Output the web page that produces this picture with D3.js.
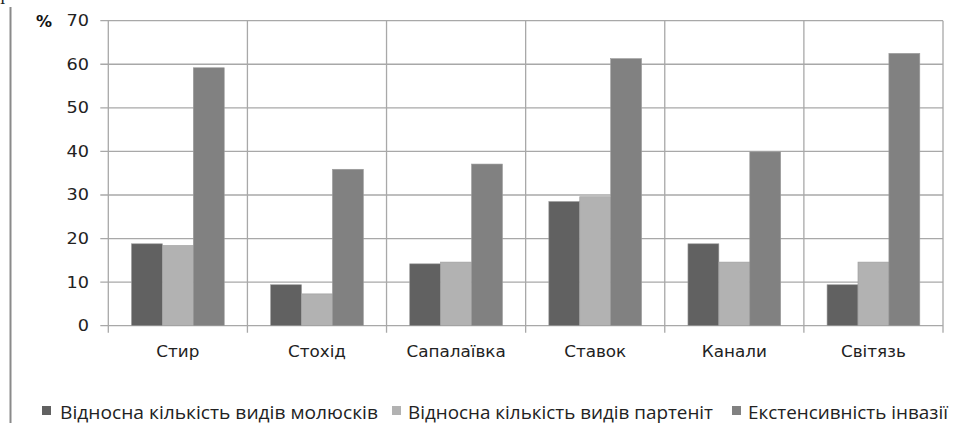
<!DOCTYPE html>
<html>
<head>
<meta charset="utf-8">
<script src="https://cdn.jsdelivr.net/npm/d3@7"></script>
<style>
  html, body { margin: 0; padding: 0; background: #fff; }
  svg { display: block; }
</style>
</head>
<body>
<svg id="chart" width="957" height="423"></svg>
<script>
const categories = ["Стир", "Стохід", "Сапалаївка", "Ставок", "Канали", "Світязь"];
const seriesNames = [
  "Відносна кількість видів молюсків",
  "Відносна кількість видів партеніт",
  "Екстенсивність інвазії"
];
const molluscs = [18.8, 9.4, 14.2, 28.5, 18.8, 9.4];
const parthenites = [18.4, 7.3, 14.6, 29.6, 14.6, 14.6];
const invasion = [59.2, 35.9, 37.1, 61.3, 39.9, 62.5];
const yTicks = [0, 10, 20, 30, 40, 50, 60, 70];

const seriesValues = [molluscs, parthenites, invasion];
const colors = ["#616161", "#b2b2b2", "#818181"];

const svg = d3.select("#chart");
const W = 957, H = 423;
const plot = { left: 108.3, right: 943, top: 20.7, bottom: 325.7 };

const x = d3.scaleBand().domain(categories).range([plot.left, plot.right]).padding(0);
const xs = d3.scaleBand().domain(d3.range(seriesValues.length)).range([0, x.bandwidth()])
  .paddingInner(0).paddingOuter(0.75);
const y = d3.scaleLinear().domain([0, 70]).range([plot.bottom, plot.top]);

const gridColor = "#a8a8a8";
const textColor = "#222";

// left page rule
svg.append("line").attr("x1", 10.5).attr("x2", 10.5).attr("y1", 7).attr("y2", H)
  .attr("stroke", "#8a8a8a").attr("stroke-width", 2);
svg.append("text").attr("x", 0).attr("y", 4).attr("font-family", "Liberation Serif")
  .attr("font-size", 16).attr("fill", "#222").text("I");

// horizontal gridlines (with left tick)
svg.append("g").selectAll("line").data(yTicks).join("line")
  .attr("x1", plot.left - 8).attr("x2", plot.right)
  .attr("y1", d => y(d)).attr("y2", d => y(d))
  .attr("stroke", gridColor).attr("stroke-width", 1.3);

// vertical gridlines (category boundaries)
const bounds = categories.map(c => x(c)).concat([plot.right]);
svg.append("g").selectAll("line").data(bounds).join("line")
  .attr("x1", d => d).attr("x2", d => d)
  .attr("y1", plot.top).attr("y2", plot.bottom + 7)
  .attr("stroke", gridColor).attr("stroke-width", 1.3);

// bars
const groups = svg.append("g").selectAll("g").data(categories).join("g")
  .attr("transform", c => `translate(${x(c)},0)`);
groups.selectAll("rect")
  .data((c, i) => seriesValues.map((s, k) => ({ k, v: s[i] })))
  .join("rect")
  .attr("x", d => xs(d.k))
  .attr("width", xs.bandwidth())
  .attr("y", d => y(d.v))
  .attr("height", d => y(0) - y(d.v))
  .attr("fill", d => colors[d.k])
  .attr("stroke", "#9c9c9c").attr("stroke-width", 0.6);

// y tick labels
svg.append("g").selectAll("text").data(yTicks).join("text")
  .attr("transform", d => `translate(89,${y(d)}) scale(1.18,1)`)
  .attr("text-anchor", "end").attr("dy", "0.36em")
  .attr("font-family", "DejaVu Sans").attr("font-size", 15).attr("fill", textColor)
  .text(d => d);

svg.append("text").attr("x", 36).attr("y", 27)
  .attr("font-family", "DejaVu Sans").attr("font-weight", "bold")
  .attr("font-size", 16).attr("fill", "#111").text("%");

// category labels
svg.append("g").selectAll("text").data(categories).join("text")
  .attr("transform", c => `translate(${x(c) + x.bandwidth() / 2},357) scale(1.12,1)`)
  .attr("text-anchor", "middle")
  .attr("font-family", "DejaVu Sans").attr("font-size", 15).attr("fill", textColor)
  .text(c => c);

// legend
const legendX = [42, 392, 732];
const legendTextX = [60, 408, 748];
const legendLen = [318, 305, 200];
const leg = svg.append("g").selectAll("g").data(seriesNames).join("g");
leg.append("rect")
  .attr("x", (d, i) => legendX[i]).attr("y", 406).attr("width", 9).attr("height", 9)
  .attr("fill", (d, i) => colors[i]);
leg.append("text")
  .attr("x", (d, i) => legendTextX[i]).attr("y", 419)
  .attr("textLength", (d, i) => legendLen[i]).attr("lengthAdjust", "spacingAndGlyphs")
  .attr("font-family", "Open Sans").attr("font-size", 18).attr("fill", textColor)
  .text(d => d);
</script>
</body>
</html>
